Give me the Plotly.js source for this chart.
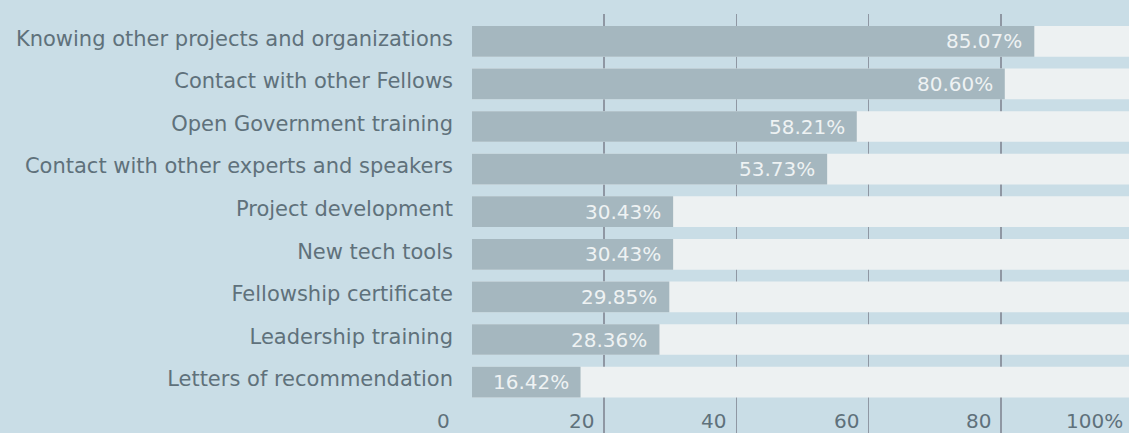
<!DOCTYPE html>
<html>
<head>
<meta charset="utf-8">
<script src="https://cdn.plot.ly/plotly-3.0.1.min.js"></script>
<style>
html,body{margin:0;padding:0;background:#c9dde6;overflow:hidden;}
#chart{width:1133px;height:433px;}
</style>
</head>
<body>
<div id="chart"></div>
<script>
const categories = [
  "Knowing other projects and organizations",
  "Contact with other Fellows",
  "Open Government training",
  "Contact with other experts and speakers",
  "Project development",
  "New tech tools",
  "Fellowship certificate",
  "Leadership training",
  "Letters of recommendation"
];
const values = [85.07, 80.60, 58.21, 53.73, 30.43, 30.43, 29.85, 28.36, 16.42];
const fullScale = [100, 100, 100, 100, 100, 100, 100, 100, 100];
const xTickValues = [0, 20, 40, 60, 80, 100];
const xTickLabels = ["0", "20", "40", "60", "80", "100%"];

const FONT = "DejaVu Sans";
const positions = categories.map((c, i) => i);

const track = {
  type: "bar", orientation: "h",
  y: positions, x: fullScale,
  width: 0.72,
  marker: {color: "#edf1f2"},
  hoverinfo: "skip", showlegend: false
};
const bars = {
  type: "bar", orientation: "h",
  y: positions, x: values,
  width: 0.72,
  marker: {color: "#a5b7bf"},
  showlegend: false
};

const annotations = [];
values.forEach((v, i) => {
  annotations.push({
    x: v, y: i, xref: "x", yref: "y",
    text: v.toFixed(2) + "%",
    showarrow: false, xanchor: "right", yanchor: "middle",
    xshift: -10,
    font: {family: FONT, size: 20, color: "#eef2f3"}
  });
});
xTickValues.forEach((t, i) => {
  annotations.push({
    x: t, y: 0, xref: "x", yref: "paper",
    text: xTickLabels[i],
    showarrow: false, xanchor: "right", yanchor: "middle",
    xshift: t === 0 ? -20 : -8, yshift: 12,
    font: {family: FONT, size: 20, color: "#5f717b"}
  });
});

const layout = {
  width: 1133, height: 433,
  margin: {l: 472, r: 0, t: 14, b: 0, pad: 0},
  paper_bgcolor: "#c9dde6",
  plot_bgcolor: "#c9dde6",
  barmode: "overlay",
  font: {family: FONT, color: "#5f717b"},
  xaxis: {
    range: [0, 100],
    tickvals: xTickValues,
    showticklabels: false,
    showgrid: true, gridcolor: "#8f97a3", gridwidth: 1.5,
    zeroline: false, showline: false, fixedrange: true
  },
  yaxis: {
    range: [9.195, -0.641],
    tickvals: positions,
    ticktext: categories,
    showgrid: false, zeroline: false, showline: false,
    ticks: "", ticklabelstandoff: 18, ticklabelshift: 3,
    tickfont: {family: FONT, size: 21, color: "#5f717b"},
    fixedrange: true
  },
  annotations: annotations
};

Plotly.newPlot("chart", [track, bars], layout, {displayModeBar: false, staticPlot: true});
</script>
</body>
</html>
